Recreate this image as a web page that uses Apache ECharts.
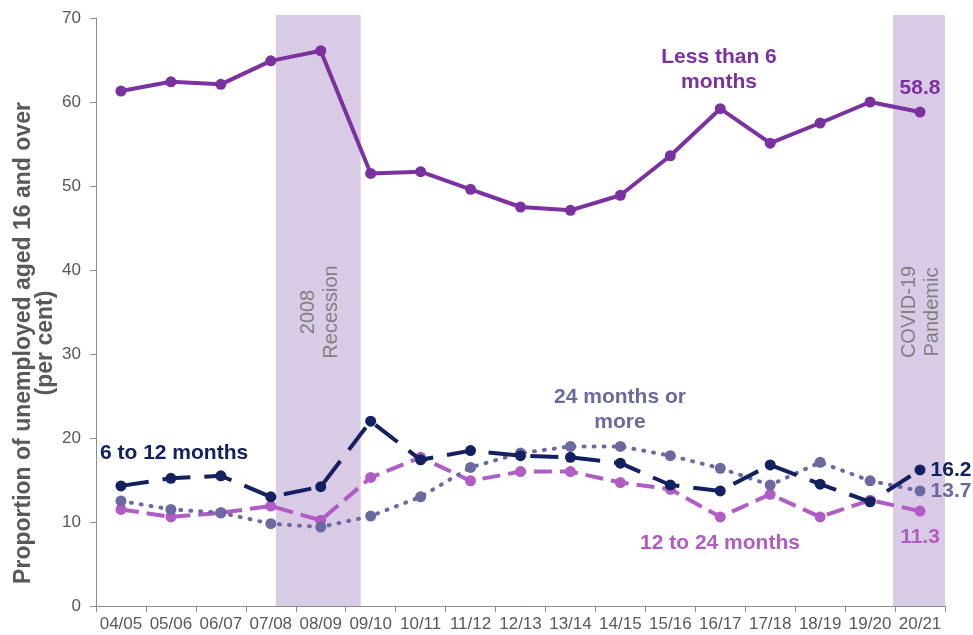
<!DOCTYPE html>
<html>
<head>
<meta charset="utf-8">
<script src="https://cdn.jsdelivr.net/npm/echarts@6/dist/echarts.min.js"></script>
<style>html,body{margin:0;padding:0;background:#fff}#c{width:973px;height:635px}</style>
</head>
<body>
<div id="c"></div>
<script>
const categories = ['04/05','05/06','06/07','07/08','08/09','09/10','10/11','11/12','12/13','13/14','14/15','15/16','16/17','17/18','18/19','19/20','20/21'];
const lessThan6 = [61.3,62.4,62.1,64.9,66.1,51.5,51.7,49.6,47.5,47.1,48.9,53.6,59.2,55.1,57.5,60.0,58.8];
const sixTo12 = [14.3,15.2,15.5,13.0,14.2,22.0,17.4,18.5,17.9,17.7,17.0,14.4,13.7,16.8,14.5,12.4,16.2];
const twelveTo24 = [11.5,10.6,11.1,11.9,10.2,15.3,17.7,14.9,16.0,16.0,14.7,13.9,10.6,13.3,10.6,12.6,11.3];
const over24 = [12.5,11.5,11.1,9.8,9.4,10.7,13.0,16.5,18.2,19.0,19.0,17.9,16.4,14.4,17.1,14.9,13.7];
const yTicks = [0,10,20,30,40,50,60,70];
// shaded periods, in category-position units (0 = left edge of first category)
const bands = [
  {start: 3.6, end: 5.3, label: '2008\nRecession'},
  {start: 15.96, end: 17, label: 'COVID-19\nPandemic'}
];

const FONT = '"Liberation Sans", Arial, sans-serif';
const last = categories.length - 1;
function withEndLabel(arr, labelOpt) {
  return arr.map((v, i) => i === last ? {value: v, label: Object.assign({show: true, fontFamily: FONT, fontWeight: 'bold', fontSize: 21}, labelOpt)} : v);
}

const chart = echarts.init(document.getElementById('c'));
chart.setOption({
  animation: false,
  grid: {left: 96, right: 28, top: 18, bottom: 29, containLabel: false, outerBoundsMode: 'none'},
  xAxis: [{
    type: 'category', data: categories, boundaryGap: true,
    axisLine: {lineStyle: {color: '#8c8c8c', width: 1}},
    axisTick: {show: true, alignWithLabel: false, length: 6, lineStyle: {color: '#8c8c8c'}},
    axisLabel: {color: '#595959', fontFamily: FONT, fontSize: 17, margin: 10, interval: 0},
    splitLine: {show: false}
  }, {
    type: 'value', min: 0, max: categories.length, show: false
  }],
  yAxis: {
    type: 'value', min: yTicks[0], max: yTicks[yTicks.length - 1], interval: 10,
    axisLine: {show: true, lineStyle: {color: '#8c8c8c'}},
    axisTick: {show: true, length: 6, lineStyle: {color: '#8c8c8c'}},
    axisLabel: {color: '#595959', fontFamily: FONT, fontSize: 17, margin: 15},
    splitLine: {show: false}
  },
  series: [
    {
      type: 'custom', xAxisIndex: 1, yAxisIndex: 0, z: 0, silent: true,
      data: bands.map(b => [b.start, b.end]),
      renderItem: function (params, api) {
        const b = bands[params.dataIndex];
        const p0 = api.coord([api.value(0), 70]);
        const p1 = api.coord([api.value(1), 0]);
        const cx = (p0[0] + p1[0]) / 2;
        return {
          type: 'group',
          children: [
            {type: 'rect', shape: {x: p0[0], y: p0[1] - 3, width: p1[0] - p0[0], height: p1[1] - p0[1] + 3}, style: {fill: '#d9cbe6'}},
            {type: 'text', x: cx + 2, y: api.coord([0, 35.0])[1], rotation: Math.PI / 2,
             style: {text: b.label, fill: '#7f7f7f', font: '20px ' + FONT, align: 'center', verticalAlign: 'middle', lineHeight: 23}}
          ]
        };
      }
    },
    {
      name: 'Less than 6 months', type: 'line', z: 5,
      data: withEndLabel(lessThan6, {position: 'top', distance: 8, color: '#7b32a0'}),
      symbol: 'circle', symbolSize: 11,
      lineStyle: {color: '#7b32a0', width: 4},
      itemStyle: {color: '#7b32a0'}
    },
    {
      name: '6 to 12 months', type: 'line', z: 4,
      data: withEndLabel(sixTo12, {position: 'right', distance: 5, color: '#142160'}),
      symbol: 'circle', symbolSize: 11,
      lineStyle: {color: '#142160', width: 4, type: [28, 14]},
      itemStyle: {color: '#142160'}
    },
    {
      name: '12 to 24 months', type: 'line', z: 3,
      data: withEndLabel(twelveTo24, {position: 'bottom', distance: 10, color: '#b05cc4'}),
      symbol: 'circle', symbolSize: 11,
      lineStyle: {color: '#b05cc4', width: 4, type: [18, 8]},
      itemStyle: {color: '#b05cc4'}
    },
    {
      name: '24 months or more', type: 'line', z: 3,
      data: withEndLabel(over24, {position: 'right', distance: 5, color: '#6b69a0'}),
      symbol: 'circle', symbolSize: 11,
      lineStyle: {color: '#6b69a0', width: 4, type: [1, 9], cap: 'round'},
      itemStyle: {color: '#6b69a0'}
    }
  ],
  graphic: [
    {type: 'text', x: 35, y: 343, rotation: Math.PI / 2, z: 10, style: {text: 'Proportion of unemployed aged 16 and over\n(per cent)', fill: '#595959', font: 'bold 23px ' + FONT, align: 'center', verticalAlign: 'middle', lineHeight: 22}},
    {type: 'text', x: 719, y: 45, z: 10, style: {text: 'Less than 6\nmonths', fill: '#7b32a0', font: 'bold 21px ' + FONT, align: 'center', verticalAlign: 'top', lineHeight: 25}},
    {type: 'text', x: 100, y: 453, z: 10, style: {text: '6 to 12 months', fill: '#142160', font: 'bold 21px ' + FONT, align: 'left', verticalAlign: 'middle'}},
    {type: 'text', x: 620, y: 385, z: 10, style: {text: '24 months or\nmore', fill: '#6b69a0', font: 'bold 21px ' + FONT, align: 'center', verticalAlign: 'top', lineHeight: 25}},
    {type: 'text', x: 720, y: 543, z: 10, style: {text: '12 to 24 months', fill: '#b05cc4', font: 'bold 21px ' + FONT, align: 'center', verticalAlign: 'middle'}}
  ]
});
</script>
</body>
</html>
